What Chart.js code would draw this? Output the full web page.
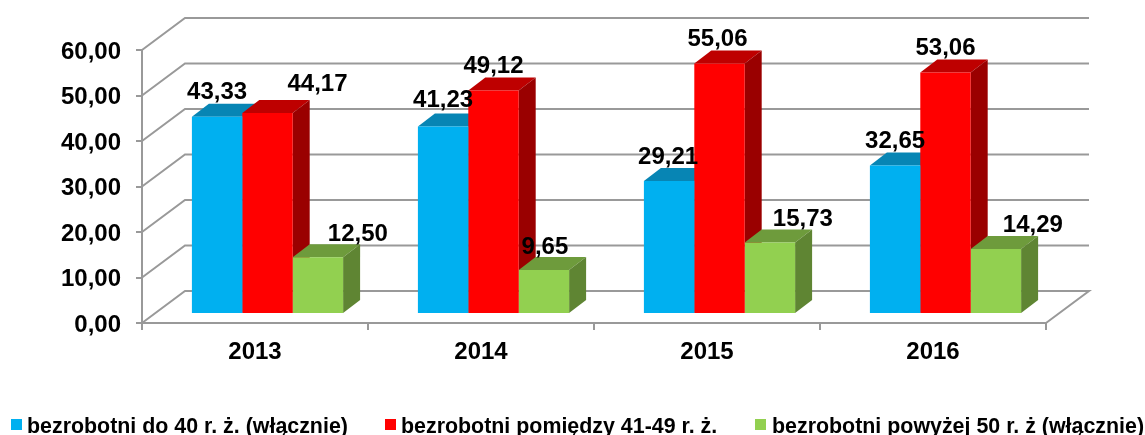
<!DOCTYPE html>
<html lang="pl">
<head>
<meta charset="utf-8">
<title>Bezrobotni</title>
<style>
  html, body { margin: 0; padding: 0; background: #fff; }
  #wrap { position: relative; width: 1145px; height: 435px; overflow: hidden; }
  #legend span { position: absolute; top: 414px; font: bold 21.4px "Liberation Sans", Arial, sans-serif; color: #000; white-space: nowrap; }
  #legend i { position: absolute; top: 419px; width: 11px; height: 11px; }
</style>
<script src="https://cdn.jsdelivr.net/npm/chart.js@4"></script>
</head>
<body>
<div id="wrap">
  <canvas id="graphic" width="1145" height="435"></canvas>
  <div id="legend"></div>
</div>
<script>
const years = ["2013", "2014", "2015", "2016"]
const do40 = [43.33, 41.23, 29.21, 32.65]
const od41do49 = [44.17, 49.12, 55.06, 53.06]
const powyzej50 = [12.50, 9.65, 15.73, 14.29]
const seriesNames = [
  "bezrobotni do 40 r. ż. (włącznie)",
  "bezrobotni pomiędzy 41-49 r. ż.",
  "bezrobotni powyżej 50 r. ż (włącznie)"
]

const front = ["#00B0F0", "#FF0000", "#92D050"]
const top3d = ["#0785B4", "#BE0000", "#6E9B3C"]
const side = ["#00709A", "#9A0000", "#5F8533"]
const gridColor = "#999999"
const font = "bold 24px 'Liberation Sans', Arial, sans-serif"

// przesuniecia slupkow i sciany wykresu (pseudo 3D)
const wall = { dx: 43, dy: -32 }
const barShift = { x: 12.5, y: -9 }
const depth = { x: 17, y: -13 }

// etykiety w oryginale sa recznie poprzesuwane
const labelMoves = [
  [[0, -24], [0, -26], [-1, -24], [0, -24]],
  [[50, -29], [0, -24], [-2, -24], [0, -24]],
  [[40, -23], [1, -23], [33, -23], [37, -24]]
]

const fmt = (v) => v.toFixed(2).replace(".", ",")

function face(ctx, color, pts) {
  ctx.fillStyle = color
  ctx.beginPath()
  pts.forEach((p, i) => i ? ctx.lineTo(p[0], p[1]) : ctx.moveTo(p[0], p[1]))
  ctx.closePath()
  ctx.fill()
}

const wallPlugin = {
  id: "wall",
  beforeDatasetsDraw(chart) {
    const { ctx, chartArea, scales } = chart
    ctx.save()
    ctx.strokeStyle = gridColor
    ctx.lineWidth = 2
    scales.y.ticks.forEach((t) => {
      const y = scales.y.getPixelForValue(t.value)
      ctx.beginPath()
      ctx.moveTo(chartArea.left, y)
      ctx.lineTo(chartArea.left + wall.dx, y + wall.dy)
      ctx.lineTo(chartArea.right + wall.dx, y + wall.dy)
      if (t.value === 0) ctx.lineTo(chartArea.right, y)
      ctx.stroke()
    })
    ctx.restore()
  }
}

const bars3d = {
  id: "bars3d",
  // gorne i boczne sciany najpierw, przednie rysuje sam Chart.js
  beforeDatasetsDraw(chart) {
    const ctx = chart.ctx
    ctx.save()
    ctx.translate(barShift.x, barShift.y)
    chart.data.datasets.forEach((ds, i) => {
      chart.getDatasetMeta(i).data.forEach((bar) => {
        const l = bar.x - bar.width / 2
        const r = bar.x + bar.width / 2
        face(ctx, top3d[i], [[l, bar.y], [r, bar.y], [r + depth.x, bar.y + depth.y], [l + depth.x, bar.y + depth.y]])
        face(ctx, side[i], [[r, bar.y], [r + depth.x, bar.y + depth.y], [r + depth.x, bar.base + depth.y], [r, bar.base]])
      })
    })
    ctx.restore()
  },
  beforeDatasetDraw(chart) {
    chart.ctx.save()
    chart.ctx.translate(barShift.x, barShift.y)
  },
  afterDatasetDraw(chart) {
    chart.ctx.restore()
  },
  afterDatasetsDraw(chart) {
    const ctx = chart.ctx
    ctx.save()
    ctx.font = font
    ctx.fillStyle = "#000"
    ctx.textAlign = "center"
    ctx.textBaseline = "middle"
    chart.data.datasets.forEach((ds, i) => {
      chart.getDatasetMeta(i).data.forEach((bar, j) => {
        const move = labelMoves[i][j]
        ctx.fillText(fmt(ds.data[j]), bar.x + barShift.x + move[0], bar.y + barShift.y + move[1])
      })
    })
    ctx.restore()
  }
}

new Chart(document.querySelector("#graphic"), {
  type: "bar",
  data: {
    labels: years,
    datasets: [
      { label: seriesNames[0], data: do40, backgroundColor: front[0] },
      { label: seriesNames[1], data: od41do49, backgroundColor: front[1] },
      { label: seriesNames[2], data: powyzej50, backgroundColor: front[2] }
    ]
  },
  options: {
    responsive: false,
    animation: false,
    categoryPercentage: 0.669,
    barPercentage: 1,
    layout: { padding: { top: 50, right: 99, bottom: 52, left: 0 } },
    plugins: { legend: { display: false }, tooltip: { enabled: false } },
    scales: {
      x: {
        afterFit: (scale) => { scale.height = 60 },
        border: { color: gridColor, width: 2 },
        grid: { drawOnChartArea: false, color: gridColor, lineWidth: 2, tickLength: 7 },
        ticks: { color: "#000", font: { family: "'Liberation Sans'", weight: "bold", size: 24 }, padding: 8, maxRotation: 0 }
      },
      y: {
        min: 0,
        max: 60,
        afterFit: (scale) => { scale.width = 142 },
        border: { color: gridColor, width: 2 },
        grid: { drawOnChartArea: false, color: gridColor, lineWidth: 2, tickLength: 6 },
        ticks: {
          stepSize: 10,
          color: "#000",
          font: { family: "'Liberation Sans'", weight: "bold", size: 24 },
          padding: 15,
          labelOffset: 2,
          callback: (v) => fmt(v)
        }
      }
    }
  },
  plugins: [wallPlugin, bars3d]
})

// legenda pod wykresem
const legendX = [[11, 27], [385, 401], [755, 772]]
const legendDiv = document.querySelector("#legend")
seriesNames.forEach((name, i) => {
  const box = document.createElement("i")
  box.style.left = legendX[i][0] + "px"
  box.style.background = front[i]
  const txt = document.createElement("span")
  txt.style.left = legendX[i][1] + "px"
  txt.textContent = name
  legendDiv.appendChild(box)
  legendDiv.appendChild(txt)
})
</script>
</body>
</html>
